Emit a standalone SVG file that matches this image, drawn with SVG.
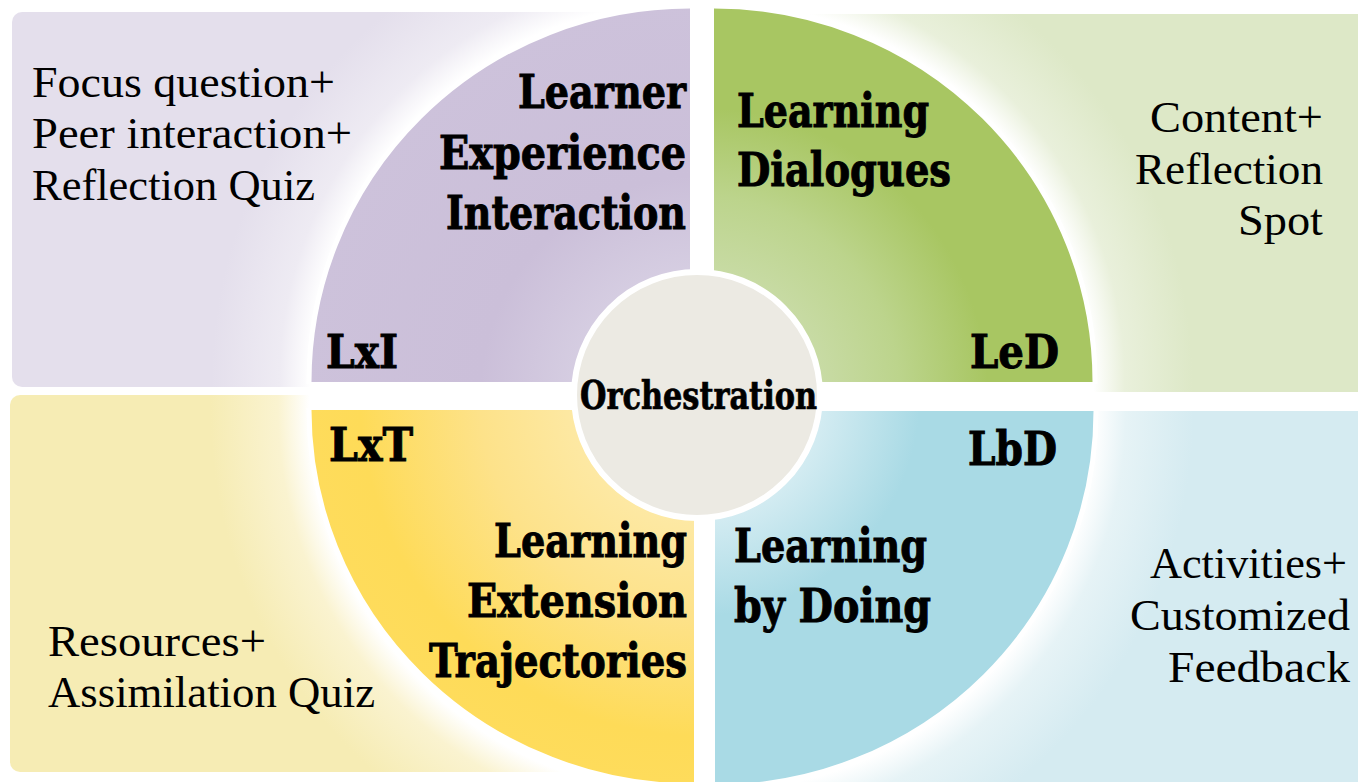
<svg xmlns="http://www.w3.org/2000/svg" width="1358" height="782" viewBox="0 0 1358 782">
<defs>
<style>
.b{font-family:"DejaVu Serif Condensed","DejaVu Serif","Liberation Serif",serif;font-weight:bold;font-size:47px;fill:#000;stroke:#000;stroke-width:0.9}
.o{font-family:"DejaVu Serif Condensed","DejaVu Serif","Liberation Serif",serif;font-weight:bold;font-size:40px;fill:#000;stroke:#000;stroke-width:0.7}
.r{font-family:"Liberation Serif","DejaVu Serif",serif;font-size:45px;fill:#000}
.edge{fill:none;stroke:#fff;stroke-width:5}
</style>
<radialGradient id="gTL" gradientUnits="userSpaceOnUse" cx="690" cy="382" r="520">
<stop offset="0" stop-color="#fff"/><stop offset="0.73" stop-color="#fff"/><stop offset="0.79" stop-color="#EEEBF3"/><stop offset="0.92" stop-color="#E4DFEC"/><stop offset="1" stop-color="#E4DFEC"/>
</radialGradient>
<radialGradient id="gTR" gradientUnits="userSpaceOnUse" cx="714" cy="382" r="520">
<stop offset="0" stop-color="#fff"/><stop offset="0.73" stop-color="#fff"/><stop offset="0.79" stop-color="#E9F0DB"/><stop offset="0.92" stop-color="#DDE8C7"/><stop offset="1" stop-color="#DDE8C7"/>
</radialGradient>
<radialGradient id="gBL" gradientUnits="userSpaceOnUse" cx="694" cy="410" r="520">
<stop offset="0" stop-color="#fff"/><stop offset="0.74" stop-color="#fff"/><stop offset="0.8" stop-color="#FAF3D0"/><stop offset="0.93" stop-color="#F6ECB4"/><stop offset="1" stop-color="#F6ECB4"/>
</radialGradient>
<radialGradient id="gBR" gradientUnits="userSpaceOnUse" cx="715" cy="411" r="520">
<stop offset="0" stop-color="#fff"/><stop offset="0.73" stop-color="#fff"/><stop offset="0.79" stop-color="#E6F3F6"/><stop offset="0.92" stop-color="#D5EBF1"/><stop offset="1" stop-color="#D5EBF1"/>
</radialGradient>
<radialGradient id="fP" gradientUnits="userSpaceOnUse" cx="700" cy="396" r="400">
<stop offset="0.3" stop-color="#D6CEE2"/><stop offset="0.55" stop-color="#CBBFD9"/><stop offset="1" stop-color="#CDC2DB"/>
</radialGradient>
<radialGradient id="fG" gradientUnits="userSpaceOnUse" cx="700" cy="396" r="400">
<stop offset="0.3" stop-color="#C8DBA5"/><stop offset="0.5" stop-color="#BCD48C"/><stop offset="0.72" stop-color="#A8C662"/><stop offset="1" stop-color="#A8C662"/>
</radialGradient>
<radialGradient id="fY" gradientUnits="userSpaceOnUse" cx="700" cy="396" r="400">
<stop offset="0.3" stop-color="#FDE9A5"/><stop offset="0.55" stop-color="#FDE28A"/><stop offset="0.85" stop-color="#FEDB58"/><stop offset="1" stop-color="#FEDC5C"/>
</radialGradient>
<radialGradient id="fB" gradientUnits="userSpaceOnUse" cx="700" cy="396" r="400">
<stop offset="0.3" stop-color="#D4ECF2"/><stop offset="0.55" stop-color="#A9DAE5"/><stop offset="1" stop-color="#A9DAE5"/>
</radialGradient>
</defs>
<rect width="1358" height="782" fill="#fff"/>

<g id="lxi">
<rect x="12" y="12" width="678" height="375" rx="10" fill="url(#gTL)"/>
<path d="M690,382 L309,382 A381,376 0 0 1 690,6 Z" fill="url(#fP)"/>
<path class="edge" d="M309,384 A381,376 0 0 1 690,6"/>
<text class="r" x="32" y="97" textLength="303" lengthAdjust="spacingAndGlyphs">Focus question+</text>
<text class="r" x="32" y="148" textLength="320" lengthAdjust="spacingAndGlyphs">Peer interaction+</text>
<text class="r" x="32" y="200" textLength="283" lengthAdjust="spacingAndGlyphs">Reflection Quiz</text>
<text class="b" x="518" y="108" textLength="168" lengthAdjust="spacingAndGlyphs">Learner</text>
<text class="b" x="439" y="169" textLength="247" lengthAdjust="spacingAndGlyphs">Experience</text>
<text class="b" x="446" y="229" textLength="240" lengthAdjust="spacingAndGlyphs">Interaction</text>
<text class="b" x="326" y="368" textLength="72" lengthAdjust="spacingAndGlyphs">LxI</text>
</g>

<g id="led">
<rect x="714" y="14" width="654" height="378" rx="10" fill="url(#gTR)"/>
<path d="M714,382 L714,6 A381,376 0 0 1 1095,382 Z" fill="url(#fG)"/>
<path class="edge" d="M714,6 A381,376 0 0 1 1095,384"/>
<text class="r" x="1150" y="132" textLength="173" lengthAdjust="spacingAndGlyphs">Content+</text>
<text class="r" x="1135" y="184" textLength="188" lengthAdjust="spacingAndGlyphs">Reflection</text>
<text class="r" x="1238" y="235" textLength="85" lengthAdjust="spacingAndGlyphs">Spot</text>
<text class="b" x="737" y="127" textLength="192" lengthAdjust="spacingAndGlyphs">Learning</text>
<text class="b" x="737" y="186" textLength="214" lengthAdjust="spacingAndGlyphs">Dialogues</text>
<text class="b" x="970" y="368" textLength="89" lengthAdjust="spacingAndGlyphs">LeD</text>
</g>

<g id="lxt">
<rect x="10" y="395" width="684" height="377" rx="10" fill="url(#gBL)"/>
<path d="M694,410 L309,410 A385,376 0 0 0 694,786 Z" fill="url(#fY)"/>
<path class="edge" d="M309,408 A385,376 0 0 0 694,786"/>
<text class="r" x="48" y="656" textLength="218" lengthAdjust="spacingAndGlyphs">Resources+</text>
<text class="r" x="48" y="707" textLength="327" lengthAdjust="spacingAndGlyphs">Assimilation Quiz</text>
<text class="b" x="329" y="461" textLength="84" lengthAdjust="spacingAndGlyphs">LxT</text>
<text class="b" x="494" y="557" textLength="193" lengthAdjust="spacingAndGlyphs">Learning</text>
<text class="b" x="467" y="617" textLength="220" lengthAdjust="spacingAndGlyphs">Extension</text>
<text class="b" x="429" y="677" textLength="258" lengthAdjust="spacingAndGlyphs">Trajectories</text>
</g>

<g id="lbd">
<rect x="715" y="411" width="653" height="381" rx="10" fill="url(#gBR)"/>
<path d="M715,411 L1096,411 A381,376 0 0 1 715,787 Z" fill="url(#fB)"/>
<path class="edge" d="M1096,409 A381,376 0 0 1 715,787"/>
<text class="r" x="1150" y="578" textLength="197" lengthAdjust="spacingAndGlyphs">Activities+</text>
<text class="r" x="1130" y="630" textLength="220" lengthAdjust="spacingAndGlyphs">Customized</text>
<text class="r" x="1168" y="682" textLength="182" lengthAdjust="spacingAndGlyphs">Feedback</text>
<text class="b" x="968" y="465" textLength="89" lengthAdjust="spacingAndGlyphs">LbD</text>
<text class="b" x="734" y="562" textLength="193" lengthAdjust="spacingAndGlyphs">Learning</text>
<text class="b" x="734" y="622" textLength="197" lengthAdjust="spacingAndGlyphs">by Doing</text>
</g>

<g id="orchestration">
<circle cx="697" cy="395" r="123" fill="#ECEAE3" stroke="#fff" stroke-width="6"/>
<text class="o" x="580" y="409" textLength="237" lengthAdjust="spacingAndGlyphs">Orchestration</text>
</g>

<g id="connectors"/>
</svg>
